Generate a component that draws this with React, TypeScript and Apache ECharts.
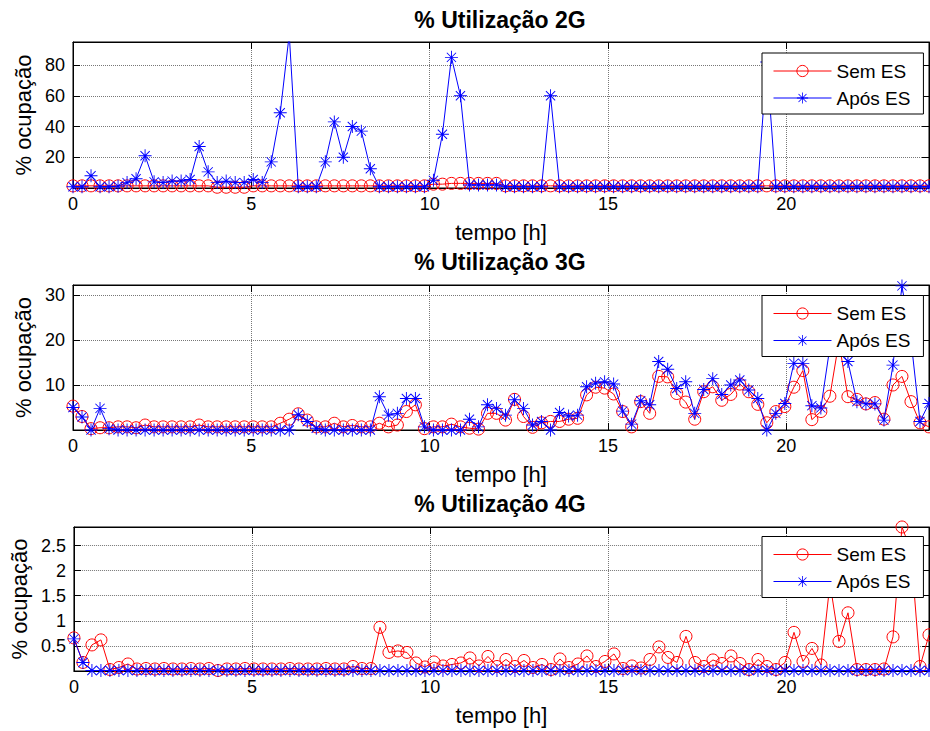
import React, { useEffect, useRef } from 'react';
import * as echarts from 'echarts';

const N = 96;
// sampling times (h): 96 samples spread over 0..24 h
const tempo: number[] = Array.from({ length: N }, (_, i) => Math.round((i * 24 / 95) * 10000) / 10000);

const xTicks = [0, 5, 10, 15, 20];
const titles = ['% Utilização 2G', '% Utilização 3G', '% Utilização 4G'];
const seriesNames = ['Sem ES', 'Após ES'];

const semES2G = [
  1.4, 1.4, 1.4, 1.4, 1.4, 1.4, 1.4, 1.4, 1.4, 1.4, 1.4, 1.4, 1.4, 1.4, 1.4, 1.4,
  0.5, 0.5, 0.5, 0.5, 1.4, 1.4, 1.4, 1.4, 1.4, 1.4, 1.4, 1.4, 1.4, 1.4, 1.4, 1.4,
  1.4, 1.4, 1.4, 1.4, 1.4, 1.4, 1.4, 1.4, 2.5, 2.5, 3, 3, 3, 3, 3, 3,
  1.4, 1.4, 1.4, 1.4, 1.4, 1.4, 1.4, 1.4, 1.4, 1.4, 1.4, 1.4, 1.4, 1.4, 1.4, 1.4,
  1.4, 1.4, 1.4, 1.4, 1.4, 1.4, 1.4, 1.4, 1.4, 1.4, 1.4, 1.4, 1.4, 1.4, 1.4, 1.4,
  1.4, 1.4, 1.4, 1.4, 1.4, 1.4, 1.4, 1.4, 1.4, 1.4, 1.4, 1.4, 1.4, 1.4, 1.4, 1.4,
];
const aposES2G = [
  0.8, 0.8, 8, 0.8, 0.8, 1.2, 3.5, 6, 21, 4, 3.5, 4.5, 4.5, 5.5, 27, 10.5,
  3.5, 4.5, 3.5, 3.5, 5.5, 3.5, 17, 49, 100, 0.8, 0.8, 0.8, 17, 43, 20, 40,
  37, 12.5, 0.8, 0.8, 0.8, 0.8, 0.8, 0.8, 5, 35, 85, 60, 2, 2, 2, 2,
  0.8, 0.8, 0.8, 0.8, 0.8, 60, 0.8, 0.8, 0.8, 0.8, 0.8, 0.8, 0.8, 0.8, 0.8, 0.8,
  0.8, 0.8, 0.8, 0.8, 0.8, 0.8, 0.8, 0.8, 0.8, 0.8, 0.8, 0.8, 0.8, 82, 0.8, 0.8,
  0.8, 0.8, 0.8, 0.8, 0.8, 0.8, 0.8, 0.8, 0.8, 0.8, 0.8, 0.8, 0.8, 0.8, 0.8, 0.8,
];

const semES3G = [
  5.3, 3.0, 0.3, 0.5, 0.5, 0.7, 0.7, 0.5, 1.1, 0.7, 0.7, 0.7, 0.7, 0.7, 1.1, 0.7,
  0.7, 0.7, 0.7, 0.7, 0.7, 0.7, 0.7, 1.5, 2.4, 3.6, 2.2, 0.7, 0.7, 1.5, 0.7, 1.0,
  0.7, 0.7, 1.5, 0.7, 1.1, 4.1, 5.6, 0.3, 0.7, 0.7, 1.3, 0.7, 0.4, 0.2, 3.7, 3.7,
  2.2, 6.8, 3.0, 0.6, 1.6, 1.9, 1.9, 2.4, 2.6, 7.8, 9.5, 9.3, 8.0, 4.1, 0.7, 6.3,
  3.7, 11.9, 11.8, 8.1, 6.2, 2.4, 8.5, 9.6, 6.6, 7.9, 10.2, 8.5, 5.7, 1.6, 4.1, 5.2,
  9.5, 13.2, 2.3, 4.1, 7.5, 19.6, 7.4, 6.8, 5.8, 6.1, 2.4, 10.0, 11.9, 6.3, 1.6, 0.7,
];
const aposES3G = [
  5.0, 2.9, 0, 4.8, 0.3, 0, 0, 0, 0, 0, 0, 0, 0, 0, 0, 0,
  0, 0, 0, 0, 0, 0, 0, 0, 0, 3.4, 1.9, 0.4, 0, 0, 0, 0,
  0, 0, 7.4, 3.3, 3.7, 7.0, 7.0, 0.7, 0, 0, 0, 0, 2.4, 0.7, 5.6, 4.8,
  3.3, 6.7, 4.8, 1.1, 1.9, 0, 3.9, 3.1, 3.3, 9.6, 10.4, 10.7, 10.2, 4.2, 1.3, 6.5,
  5.6, 15.2, 13.5, 9.2, 10.7, 3.7, 9.0, 11.4, 7.9, 10.0, 11.1, 8.9, 7.0, 0, 3.7, 5.9,
  14.8, 14.8, 5.4, 4.9, 18.4, 17.8, 15.2, 6.3, 5.8, 5.8, 2.2, 14.4, 32, 20, 1.9, 5.9,
];

const semES4G = [
  0.66, 0.17, 0.52, 0.62, 0.03, 0.07, 0.14, 0.04, 0.05, 0.04, 0.05, 0.04, 0.04, 0.05, 0.04, 0.05,
  0.01, 0.04, 0.04, 0.05, 0.04, 0.04, 0.04, 0.04, 0.05, 0.04, 0.04, 0.04, 0.05, 0.04, 0.04, 0.09,
  0.05, 0.05, 0.87, 0.37, 0.40, 0.37, 0.16, 0.08, 0.18, 0.10, 0.13, 0.16, 0.26, 0.10, 0.29, 0.09,
  0.23, 0.09, 0.21, 0.07, 0.13, 0.03, 0.24, 0.07, 0.14, 0.30, 0.09, 0.19, 0.34, 0.05, 0.10, 0.06,
  0.23, 0.48, 0.27, 0.17, 0.69, 0.17, 0.09, 0.22, 0.15, 0.30, 0.15, 0.03, 0.23, 0.09, 0.03, 0.17,
  0.77, 0.19, 0.45, 0.12, 1.75, 0.59, 1.16, 0.03, 0.03, 0.03, 0.04, 0.68, 2.87, 2.4, 0.09, 0.72,
];
const aposES4G = [
  0.64, 0.17, 0.01, 0.01, 0.01, 0.01, 0.01, 0.01, 0.01, 0.01, 0.01, 0.01, 0.01, 0.01, 0.01, 0.01,
  0.01, 0.01, 0.01, 0.01, 0.01, 0.01, 0.01, 0.01, 0.01, 0.01, 0.01, 0.01, 0.01, 0.01, 0.01, 0.01,
  0.01, 0.01, 0.01, 0.01, 0.01, 0.01, 0.01, 0.01, 0.01, 0.01, 0.01, 0.01, 0.01, 0.01, 0.01, 0.01,
  0.01, 0.01, 0.01, 0.01, 0.01, 0.01, 0.01, 0.01, 0.01, 0.01, 0.01, 0.01, 0.01, 0.01, 0.01, 0.01,
  0.01, 0.01, 0.01, 0.01, 0.01, 0.01, 0.01, 0.01, 0.01, 0.01, 0.01, 0.01, 0.01, 0.01, 0.01, 0.01,
  0.01, 0.01, 0.01, 0.01, 0.01, 0.01, 0.01, 0.01, 0.01, 0.01, 0.01, 0.01, 0.01, 0.01, 0.01, 0.01,
];

const panels = [
  { title: titles[0], sem: semES2G, apos: aposES2G, yMax: 95, yInterval: 20 },
  { title: titles[1], sem: semES3G, apos: aposES3G, yMax: 32.2, yInterval: 10 },
  { title: titles[2], sem: semES4G, apos: aposES4G, yMax: 2.87, yInterval: 0.5 },
];

const FONT = '"Liberation Sans", Arial, Helvetica, sans-serif';
const STAR =
  'path://M0 9.3H20V10.7H0Z M9.3 0H10.7V20H9.3Z M2.4 3.4L3.4 2.4L17.6 16.6L16.6 17.6Z M16.6 2.4L17.6 3.4L3.4 17.6L2.4 16.6Z';

const gridTops = [42, 285, 527];
const gridHeights = [146, 145, 144];
const titleY = [20, 261.5, 503.5];
const legendTops = [53, 295.5, 536.5];

function isMultiple(v: number, step: number) {
  const r = v / step;
  return Math.abs(r - Math.round(r)) < 1e-6;
}

export default function App() {
  const ref = useRef<HTMLDivElement>(null);
  useEffect(() => {
    document.body.style.margin = '0';
    if (!ref.current) return;
    const chart = echarts.init(ref.current, undefined, { renderer: 'svg' });

    const grid: any[] = [];
    const xAxis: any[] = [];
    const yAxis: any[] = [];
    const series: any[] = [];
    const legend: any[] = [];
    const graphic: any[] = [];

    panels.forEach((p, k) => {
      grid.push({
        left: 73,
        top: gridTops[k],
        width: 856,
        height: gridHeights[k],
        show: true,
        borderColor: '#000',
        borderWidth: 1,
        backgroundColor: '#fff',
      });
      const tickStyle = { color: '#000', width: 1 };
      xAxis.push({
        type: 'value',
        gridIndex: k,
        min: 0,
        max: 24,
        interval: 5,
        position: 'bottom',
        axisLine: { show: true, onZero: false, lineStyle: { color: '#000', width: 1 } },
        axisTick: { show: true, inside: true, length: 7, lineStyle: tickStyle },
        axisLabel: {
          margin: 7,
          fontSize: 18,
          color: '#000',
          fontFamily: FONT,
          showMaxLabel: false,
          formatter: (v: number) => (xTicks.indexOf(v) >= 0 ? String(v) : ''),
        },
        splitLine: { show: true, lineStyle: { color: '#777', type: 'dotted', width: 1 } },
        name: 'tempo [h]',
        nameLocation: 'middle',
        nameGap: 33,
        nameTextStyle: { fontSize: 22, color: '#000', fontFamily: FONT },
      });
      xAxis.push({
        type: 'value',
        gridIndex: k,
        min: 0,
        max: 24,
        interval: 5,
        position: 'top',
        axisLine: { show: true, onZero: false, lineStyle: { color: '#000', width: 1 } },
        axisTick: { show: true, inside: true, length: 7, lineStyle: tickStyle },
        axisLabel: { show: false },
        splitLine: { show: false },
      });
      yAxis.push({
        type: 'value',
        gridIndex: k,
        min: 0,
        max: p.yMax,
        interval: p.yInterval,
        position: 'left',
        axisLine: { show: true, onZero: false, lineStyle: { color: '#000', width: 1 } },
        axisTick: { show: true, inside: true, length: 7, lineStyle: tickStyle },
        axisLabel: {
          margin: 8,
          fontSize: 18,
          color: '#000',
          fontFamily: FONT,
          formatter: (v: number) => (v > 0 && isMultiple(v, p.yInterval) ? String(v) : ''),
        },
        splitLine: { show: true, lineStyle: { color: '#777', type: 'dotted', width: 1 } },
        name: '% ocupação',
        nameLocation: 'middle',
        nameGap: 32,
        nameRotate: 90,
        nameTextStyle: { fontSize: 22, color: '#000', fontFamily: FONT },
      });
      yAxis.push({
        type: 'value',
        gridIndex: k,
        min: 0,
        max: p.yMax,
        interval: p.yInterval,
        position: 'right',
        axisLine: { show: true, onZero: false, lineStyle: { color: '#000', width: 1 } },
        axisTick: { show: true, inside: true, length: 7, lineStyle: tickStyle },
        axisLabel: { show: false },
        splitLine: { show: false },
      });
      series.push({
        name: seriesNames[0],
        type: 'line',
        xAxisIndex: 2 * k,
        yAxisIndex: 2 * k,
        data: tempo.map((t, i) => [t, p.sem[i]]),
        symbol: 'circle',
        symbolSize: 12,
        showAllSymbol: true,
        clip: true,
        itemStyle: { color: 'rgba(0,0,0,0)', borderColor: '#ff0000', borderWidth: 1 },
        lineStyle: { color: '#ff0000', width: 1 },
        emphasis: { disabled: true },
        z: 2,
      });
      series.push({
        name: seriesNames[1],
        type: 'line',
        xAxisIndex: 2 * k,
        yAxisIndex: 2 * k,
        data: tempo.map((t, i) => [t, p.apos[i]]),
        symbol: STAR,
        symbolSize: 13,
        showAllSymbol: true,
        clip: true,
        itemStyle: { color: '#0000ff' },
        lineStyle: { color: '#0000ff', width: 1 },
        emphasis: { disabled: true },
        z: 3,
      });
      legend.push({
        data: seriesNames,
        orient: 'vertical',
        left: 762,
        top: legendTops[k],
        itemWidth: 58,
        itemHeight: 14,
        itemGap: 7,
        padding: [8, 13, 6, 11],
        backgroundColor: '#fff',
        borderColor: '#000',
        borderWidth: 1,
        selectedMode: false,
        lineStyle: { width: 1 },
        itemStyle: { borderWidth: 1 },
        textStyle: { fontSize: 19, color: '#000', fontFamily: FONT, lineHeight: 20 },
        z: 10,
      });
      graphic.push({
        type: 'text',
        x: 500,
        y: titleY[k],
        style: {
          text: p.title,
          fontSize: 23,
          fontWeight: 'bold',
          fontFamily: FONT,
          fill: '#000',
          align: 'center',
          verticalAlign: 'middle',
        },
      });
    });

    chart.setOption({
      animation: false,
      backgroundColor: '#fff',
      grid,
      xAxis,
      yAxis,
      series,
      legend,
      graphic,
      tooltip: { show: false },
    });
    return () => chart.dispose();
  }, []);
  return (
    <div
      ref={ref}
      style={{ position: 'absolute', left: 0, top: 0, width: 930, height: 731, background: '#fff' }}
    />
  );
}
